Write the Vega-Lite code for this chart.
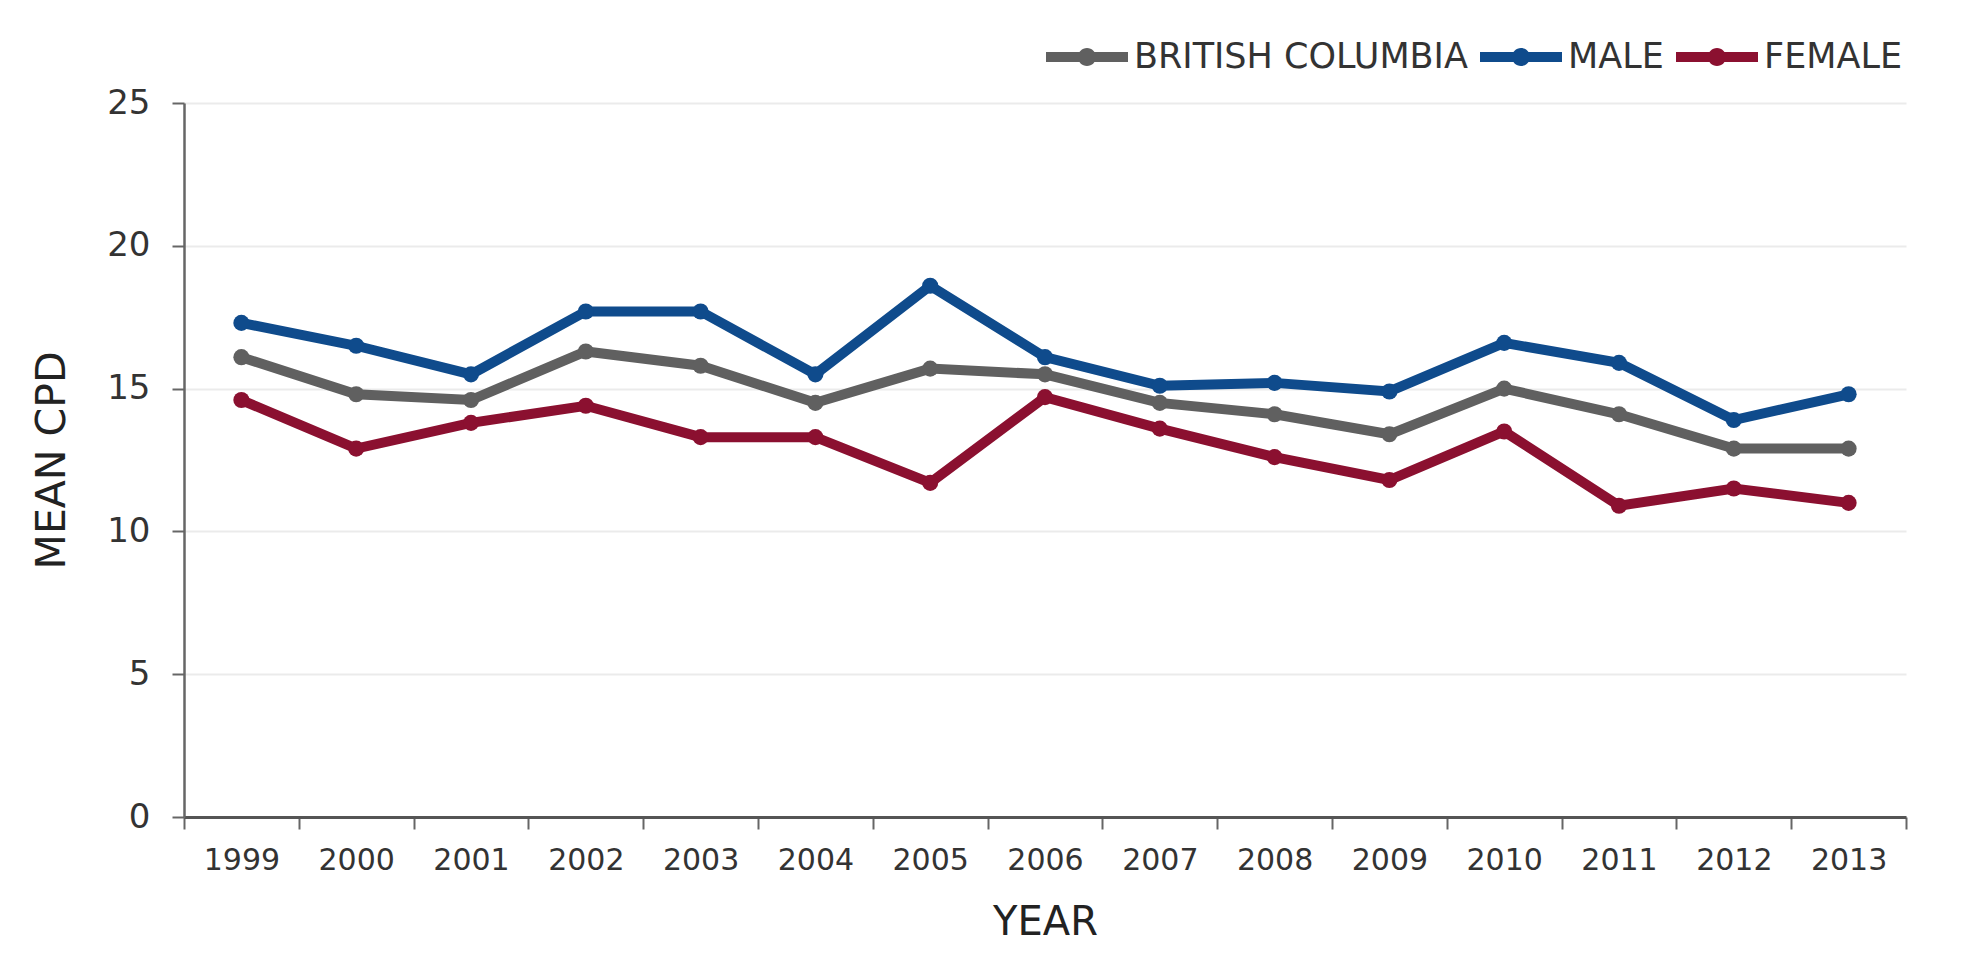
{
  "$schema": "https://vega.github.io/schema/vega-lite/v6.json",
  "width": 1722,
  "height": 714,
  "autosize": {"type": "none"},
  "padding": {"left": 184, "top": 103, "right": 66, "bottom": 142},
  "background": "white",
  "config": {
    "font": "DejaVu Sans",
    "view": {"stroke": null},
    "axis": {"labelColor": "#333333", "titleColor": "#222222", "titleFontWeight": "normal", "labelFont": "DejaVu Sans", "titleFont": "DejaVu Sans"},
    "legend": {"labelColor": "#333333", "labelFont": "DejaVu Sans"}
  },
  "data": {
    "values": [
      {"year": "1999", "group": "BRITISH COLUMBIA", "cpd": 16.1},
      {"year": "2000", "group": "BRITISH COLUMBIA", "cpd": 14.8},
      {"year": "2001", "group": "BRITISH COLUMBIA", "cpd": 14.6},
      {"year": "2002", "group": "BRITISH COLUMBIA", "cpd": 16.3},
      {"year": "2003", "group": "BRITISH COLUMBIA", "cpd": 15.8},
      {"year": "2004", "group": "BRITISH COLUMBIA", "cpd": 14.5},
      {"year": "2005", "group": "BRITISH COLUMBIA", "cpd": 15.7},
      {"year": "2006", "group": "BRITISH COLUMBIA", "cpd": 15.5},
      {"year": "2007", "group": "BRITISH COLUMBIA", "cpd": 14.5},
      {"year": "2008", "group": "BRITISH COLUMBIA", "cpd": 14.1},
      {"year": "2009", "group": "BRITISH COLUMBIA", "cpd": 13.4},
      {"year": "2010", "group": "BRITISH COLUMBIA", "cpd": 15.0},
      {"year": "2011", "group": "BRITISH COLUMBIA", "cpd": 14.1},
      {"year": "2012", "group": "BRITISH COLUMBIA", "cpd": 12.9},
      {"year": "2013", "group": "BRITISH COLUMBIA", "cpd": 12.9},
      {"year": "1999", "group": "MALE", "cpd": 17.3},
      {"year": "2000", "group": "MALE", "cpd": 16.5},
      {"year": "2001", "group": "MALE", "cpd": 15.5},
      {"year": "2002", "group": "MALE", "cpd": 17.7},
      {"year": "2003", "group": "MALE", "cpd": 17.7},
      {"year": "2004", "group": "MALE", "cpd": 15.5},
      {"year": "2005", "group": "MALE", "cpd": 18.6},
      {"year": "2006", "group": "MALE", "cpd": 16.1},
      {"year": "2007", "group": "MALE", "cpd": 15.1},
      {"year": "2008", "group": "MALE", "cpd": 15.2},
      {"year": "2009", "group": "MALE", "cpd": 14.9},
      {"year": "2010", "group": "MALE", "cpd": 16.6},
      {"year": "2011", "group": "MALE", "cpd": 15.9},
      {"year": "2012", "group": "MALE", "cpd": 13.9},
      {"year": "2013", "group": "MALE", "cpd": 14.8},
      {"year": "1999", "group": "FEMALE", "cpd": 14.6},
      {"year": "2000", "group": "FEMALE", "cpd": 12.9},
      {"year": "2001", "group": "FEMALE", "cpd": 13.8},
      {"year": "2002", "group": "FEMALE", "cpd": 14.4},
      {"year": "2003", "group": "FEMALE", "cpd": 13.3},
      {"year": "2004", "group": "FEMALE", "cpd": 13.3},
      {"year": "2005", "group": "FEMALE", "cpd": 11.7},
      {"year": "2006", "group": "FEMALE", "cpd": 14.7},
      {"year": "2007", "group": "FEMALE", "cpd": 13.6},
      {"year": "2008", "group": "FEMALE", "cpd": 12.6},
      {"year": "2009", "group": "FEMALE", "cpd": 11.8},
      {"year": "2010", "group": "FEMALE", "cpd": 13.5},
      {"year": "2011", "group": "FEMALE", "cpd": 10.9},
      {"year": "2012", "group": "FEMALE", "cpd": 11.5},
      {"year": "2013", "group": "FEMALE", "cpd": 11.0}
    ]
  },
  "encoding": {
    "x": {
      "field": "year",
      "type": "ordinal",
      "bandPosition": 0.5,
      "scale": {"type": "band", "paddingInner": 0, "paddingOuter": 0},
      "axis": {
        "title": "YEAR",
        "titleFontSize": 40,
        "titleY": 105,
        "titleBaseline": "middle",
        "labelAngle": 0,
        "labelFontSize": 30,
        "labelPadding": 16,
        "tickBand": "extent",
        "tickSize": 12,
        "tickWidth": 2,
        "tickColor": "#666666",
        "domainColor": "#555555",
        "domainWidth": 3,
        "grid": false
      }
    },
    "y": {
      "field": "cpd",
      "type": "quantitative",
      "scale": {"domain": [0, 25]},
      "axis": {
        "title": "MEAN CPD",
        "titleFontSize": 41,
        "titleX": -132,
        "titleY": 357,
        "titleAlign": "center",
        "titleBaseline": "middle",
        "values": [0, 5, 10, 15, 20, 25],
        "labelFontSize": 34,
        "labelPadding": 22,
        "tickSize": 12,
        "tickWidth": 2,
        "tickColor": "#666666",
        "domainColor": "#666666",
        "domainWidth": 2.5,
        "grid": true,
        "gridColor": "#ebebeb",
        "gridWidth": 2
      }
    },
    "color": {
      "field": "group",
      "type": "nominal",
      "scale": {
        "domain": ["BRITISH COLUMBIA", "MALE", "FEMALE"],
        "range": ["#606060", "#0f4b8c", "#8b1030"]
      },
      "legend": {
        "title": null,
        "orient": "none",
        "direction": "horizontal",
        "legendX": 862,
        "legendY": -87,
        "symbolType": "M-1,-0.12H1V0.12H-1Z M-0.22,0A0.22,0.22 0 1,1 0.22,0A0.22,0.22 0 1,1 -0.22,0Z",
        "symbolSize": 6724,
        "symbolStrokeWidth": 0,
        "labelFontSize": 35,
        "labelLimit": 0,
        "labelOffset": 6,
        "columnPadding": 12
      }
    }
  },
  "layer": [
    {"mark": {"type": "line", "strokeWidth": 10}},
    {"mark": {"type": "point", "filled": true, "size": 260, "opacity": 1}}
  ]
}
